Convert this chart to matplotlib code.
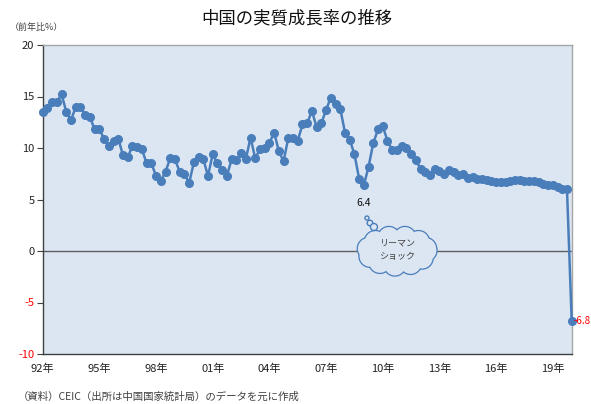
import matplotlib
matplotlib.use('Agg')
import matplotlib.pyplot as plt
import matplotlib.transforms as mtransforms
from matplotlib.patches import Circle, Ellipse
import numpy as np

plt.rcParams['font.family'] = ['Noto Sans CJK JP', 'DejaVu Sans']

# Quarterly real GDP growth (yoy %), 1992Q1 - 2020Q1
growth = [
    13.5, 13.9, 14.5, 14.5,   # 1992
    15.2, 13.5, 12.7, 14.0,   # 1993
    14.0, 13.2, 13.0, 11.8,   # 1994
    11.8, 10.9, 10.2, 10.7,   # 1995
    10.9, 9.3, 9.1, 10.2,     # 1996
    10.1, 9.9, 8.5, 8.5,      # 1997
    7.3, 6.8, 7.7, 9.0,       # 1998
    8.9, 7.7, 7.5, 6.6,       # 1999
    8.6, 9.1, 8.9, 7.3,       # 2000
    9.4, 8.5, 7.9, 7.3,       # 2001
    8.9, 8.8, 9.5, 8.9,       # 2002
    11.0, 9.0, 9.9, 10.0,     # 2003
    10.5, 11.5, 9.7, 8.7,     # 2004
    11.0, 11.0, 10.7, 12.3,   # 2005
    12.4, 13.6, 12.0, 12.4,   # 2006
    13.7, 14.9, 14.3, 13.8,   # 2007
    11.5, 10.8, 9.4, 7.0,     # 2008
    6.4, 8.2, 10.5, 11.8,     # 2009
    12.1, 10.7, 9.8, 9.8,     # 2010
    10.2, 10.0, 9.4, 8.8,     # 2011
    8.0, 7.7, 7.4, 8.0,       # 2012
    7.8, 7.5, 7.9, 7.7,       # 2013
    7.4, 7.5, 7.1, 7.2,       # 2014
    7.0, 7.0, 6.9, 6.8,       # 2015
    6.7, 6.7, 6.7, 6.8,       # 2016
    6.9, 6.9, 6.8, 6.8,       # 2017
    6.8, 6.7, 6.5, 6.4,       # 2018
    6.4, 6.2, 6.0, 6.0,       # 2019
    -6.8,                     # 2020Q1
]
tick_index = [0, 12, 24, 36, 48, 60, 72, 84, 96, 108]
tick_labels = ['92年', '95年', '98年', '01年', '04年', '07年', '10年', '13年', '16年', '19年']
y_ticks = [-10, -5, 0, 5, 10, 15, 20]

lehman_idx = 68
lehman_val = growth[lehman_idx]
last_idx = len(growth) - 1
last_val = growth[last_idx]

W, H = 591, 404
fig = plt.figure(figsize=(W / 100, H / 100), dpi=100)
ax = fig.add_axes([42.7 / W, 1 - 354 / H, 529 / W, 309 / H])
bg = '#DCE6F2'
blue = '#4A7EBB'
ax.set_facecolor(bg)

x = np.arange(len(growth))
ax.plot(x, growth, color=blue, lw=1.8, marker='o', ms=5.5, mfc=blue, mec=blue,
        clip_on=False, zorder=5)
ax.set_xlim(0, last_idx)
ax.set_ylim(-10, 20)
ax.axhline(0, color='#5E5E5E', lw=1, zorder=2)

ax.set_xticks(tick_index)
ax.set_xticklabels(tick_labels, fontsize=8, color='#222222')
ax.tick_params(axis='x', length=0, pad=7)
ax.set_yticks(y_ticks)
ax.set_yticklabels([str(v) for v in y_ticks], fontsize=8)
ax.tick_params(axis='y', length=4, pad=2, color='#404040', direction='out')
for lab, v in zip(ax.get_yticklabels(), y_ticks):
    lab.set_color('#FF0000' if v < 0 else '#222222')

for s in ['left', 'bottom']:
    ax.spines[s].set_color('#404040')
    ax.spines[s].set_linewidth(1)
for s in ['top', 'right']:
    ax.spines[s].set_color('#A6A6A6')
    ax.spines[s].set_linewidth(1)

fig.text(0.503, 1 - 18 / H, '中国の実質成長率の推移', ha='center', va='center',
         fontsize=12.5, color='#111111')
fig.text(10 / W, 1 - 27 / H, '（前年比%）', ha='left', va='center',
         fontsize=6.5, color='#404040')
fig.text(18 / W, 1 - 397 / H, '（資料）CEIC（出所は中国国家統計局）のデータを元に作成',
         ha='left', va='center', fontsize=7.5, color='#404040')

ax.annotate(f'{lehman_val}', xy=(lehman_idx, lehman_val), xytext=(0, -18),
            textcoords='offset pixels', ha='center', va='center', fontsize=7.5,
            color='#111111', zorder=9)
ax.annotate(f'{last_val}', xy=(last_idx, last_val), xytext=(2, 0),
            textcoords='offset pixels', ha='left', va='center', fontsize=7,
            color='#FF0000', annotation_clip=False, zorder=9)

# cloud callout (sizes in pixels -> inches at 100 dpi)
trans = fig.dpi_scale_trans + mtransforms.ScaledTranslation(75, 0, ax.transData)
angles = np.deg2rad(np.arange(0, 360, 32) + 10)
lobes = [(29 * np.cos(a), 14 * np.sin(a), 10.5) for a in angles]
for dx, dy, r in lobes:
    ax.add_patch(Circle((dx / 100, dy / 100), r / 100, transform=trans, facecolor=bg,
                        edgecolor=blue, lw=1.8, zorder=6, clip_on=False))
for dx, dy, r in lobes:
    ax.add_patch(Circle((dx / 100, dy / 100), r / 100, transform=trans, facecolor=bg,
                        edgecolor='none', zorder=7, clip_on=False))
ax.add_patch(Ellipse((0, 0), 0.62, 0.32, transform=trans, facecolor=bg,
                     edgecolor='none', zorder=7, clip_on=False))
for dx, dy, r in [(-30, 33, 2), (-27, 28, 2.8), (-23, 24, 3.5)]:
    ax.add_patch(Circle((dx / 100, dy / 100), r / 100, transform=trans, facecolor=bg,
                        edgecolor=blue, lw=1.0, zorder=8, clip_on=False))
ax.text(0.0, 0.015, 'リーマン\nショック', transform=trans, ha='center', va='center',
        fontsize=6.5, color='#404040', linespacing=1.7, zorder=9)

fig.savefig('out.png', dpi=100)
